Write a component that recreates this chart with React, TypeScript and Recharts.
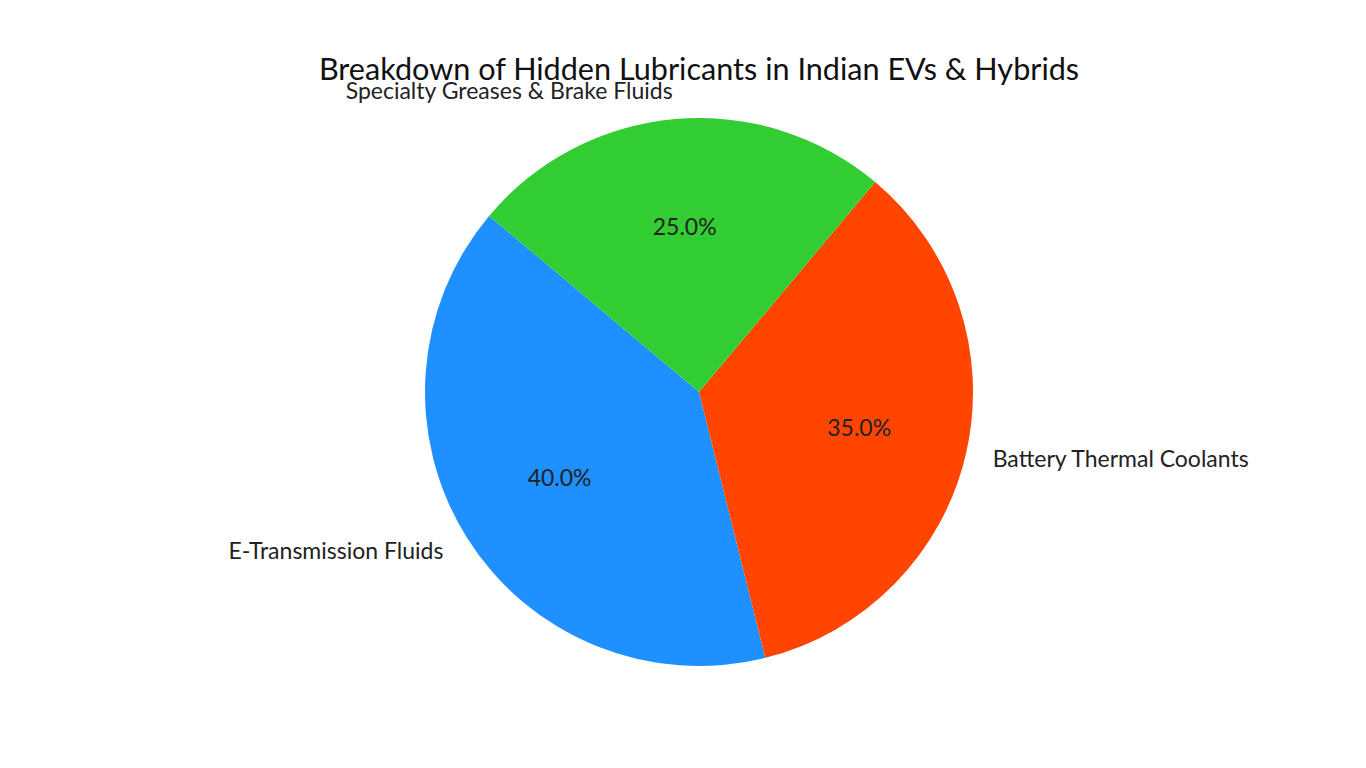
import { PieChart, Pie, Cell } from "recharts";

const categories = [
  "E-Transmission Fluids",
  "Battery Thermal Coolants",
  "Specialty Greases & Brake Fluids",
];
const shares = [40, 35, 25];
const colors = ["#1E90FF", "#FF4500", "#32CD32"];

const chartData = categories.map((name, i) => ({ name, value: shares[i] }));

const FONT = "Lato, 'Noto Sans', sans-serif";
const RADIAN = Math.PI / 180;

// matplotlib-style labels: name outside at 1.1r, percentage inside at 0.6r
const renderLabel = (props: any) => {
  const { cx, cy, midAngle, outerRadius, percent, name } = props;
  const cos = Math.cos(-midAngle * RADIAN);
  const sin = Math.sin(-midAngle * RADIAN);
  const ox = cx + outerRadius * 1.1 * cos;
  const oy = cy + outerRadius * 1.1 * sin - 2;
  const ix = cx + outerRadius * 0.6 * cos;
  const iy = cy + outerRadius * 0.6 * sin - 2;
  return (
    <g>
      <text
        x={ox}
        y={oy}
        textAnchor={cos >= 0 ? "start" : "end"}
        dominantBaseline="central"
        fontFamily={FONT}
        fontSize={23}
        fill="#222"
      >
        {name}
      </text>
      <text
        x={ix}
        y={iy}
        textAnchor="middle"
        dominantBaseline="central"
        fontFamily={FONT}
        fontSize={23}
        fill="#222"
      >
        {(percent * 100).toFixed(1)}%
      </text>
    </g>
  );
};

const App = () => {
  return (
    <div
      style={{
        position: "absolute",
        left: 0,
        top: 0,
        width: 1366,
        height: 768,
        background: "#fff",
      }}
    >
      <div
        style={{
          position: "absolute",
          left: 0,
          width: 1366,
          top: 50,
          textAlign: "center",
          fontFamily: FONT,
          fontSize: 30.6,
          color: "#111",
          paddingLeft: 32,
          boxSizing: "border-box",
        }}
      >
        Breakdown of Hidden Lubricants in Indian EVs &amp; Hybrids
      </div>
      <PieChart
        width={1366}
        height={768}
        margin={{ top: 0, right: 0, bottom: 0, left: 0 }}
      >
        <Pie
          data={chartData}
          dataKey="value"
          nameKey="name"
          cx={699}
          cy={392}
          outerRadius={274}
          startAngle={140}
          endAngle={500}
          stroke="none"
          labelLine={false}
          label={renderLabel}
          isAnimationActive={false}
        >
          {chartData.map((d, i) => (
            <Cell key={d.name} fill={colors[i]} />
          ))}
        </Pie>
      </PieChart>
    </div>
  );
};

export default App;
